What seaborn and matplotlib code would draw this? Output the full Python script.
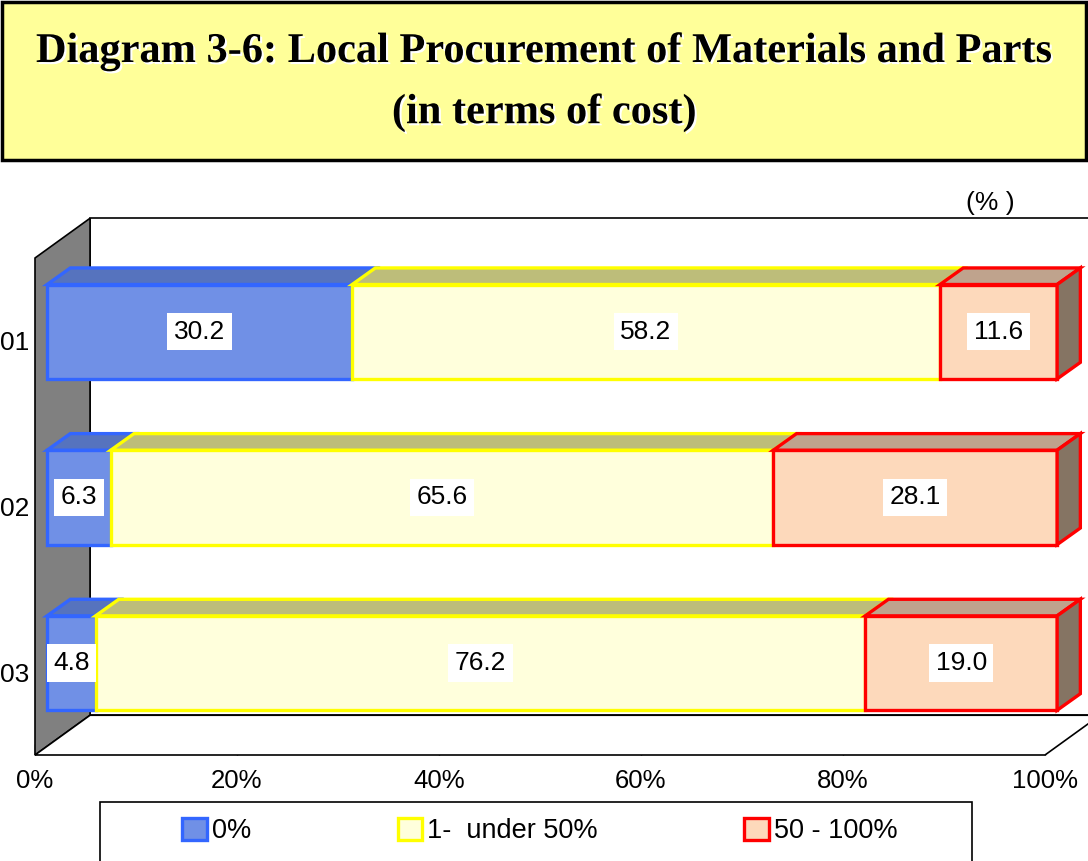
import pandas as pd
import matplotlib
matplotlib.use("Agg")
import matplotlib.pyplot as plt
import matplotlib.patheffects as pe
from matplotlib.patches import Polygon, Rectangle
import seaborn as sns

years = ["01", "02", "03"]
seg_names = ["0%", "1-  under 50%", "50 - 100%"]
zero_pct = [30.2, 6.3, 4.8]
under_50 = [58.2, 65.6, 76.2]
over_50 = [11.6, 28.1, 19.0]

faces = ["#7090E6", "#FFFFDC", "#FDD9BB"]
edges = ["#3366FF", "#FFFF00", "#FF0000"]
tops = ["#5673BE", "#BDBD7A", "#BFA38D"]
side_col = "#857463"

sns.set_theme(style="white")
plt.rcParams["font.family"] = ["Liberation Sans", "DejaVu Sans"]
plt.rcParams["text.color"] = "black"
plt.rcParams["xtick.color"] = "black"
plt.rcParams["ytick.color"] = "black"

fig = plt.figure(figsize=(10.88, 8.61), dpi=100)
W, H = 1088, 861

# title box
fig.add_artist(Rectangle((2 / W, 1 - 160 / H), 1084 / W, 158 / H, transform=fig.transFigure,
                         facecolor="#FFFF99", edgecolor="black", lw=2.5))
shadow = [pe.withSimplePatchShadow(offset=(1.5, -1.5), shadow_rgbFace="white", alpha=1)]
fig.text(0.5, 1 - 52 / H, "Diagram 3-6: Local Procurement of Materials and Parts", ha="center", va="center",
         fontsize=30.5, fontweight="bold", family=["Liberation Serif", "DejaVu Serif"], path_effects=shadow)
fig.text(0.5, 1 - 113 / H, "(in terms of cost)", ha="center", va="center",
         fontsize=30.5, fontweight="bold", family=["Liberation Serif", "DejaVu Serif"], path_effects=shadow)

ax = fig.add_axes([35 / W, 1 - 755 / H, 1010 / W, 497 / H])

# offsets in data units (x in %, y in category units)
WX, WY = 5.45, 0.24      # wall depth
BX, BY = 1.2, 0.055      # bar front offset
DX, DY = 2.3, 0.10       # bar depth

# back wall, left wall, floor
ax.add_patch(Rectangle((WX, -0.5 - WY), 100, 3, facecolor="white", edgecolor="black", lw=1.2,
                       clip_on=False, zorder=0.5))
ax.add_patch(Polygon([(0, -0.5), (WX, -0.5 - WY), (WX, 2.5 - WY), (0, 2.5)], closed=True,
                     facecolor="#808080", edgecolor="black", lw=1.2, clip_on=False, zorder=0.6))
ax.add_patch(Polygon([(0, 2.5), (100, 2.5), (100 + WX, 2.5 - WY), (WX, 2.5 - WY)], closed=True,
                     facecolor="white", edgecolor="black", lw=1.2, clip_on=False, zorder=0.6))

series = [zero_pct, under_50, over_50]
left = [0.0] * len(years)
for k, vals in enumerate(series):
    n0 = len(ax.patches)
    sns.barplot(x=vals, y=years, orient="h", order=years, color=faces[k], saturation=1,
                width=0.57, edgecolor=edges[k], linewidth=2.4, ax=ax, zorder=2)
    for i, p in enumerate(ax.patches[n0:]):
        x0 = left[i] + BX
        p.set_x(x0)
        p.set_y(p.get_y() - BY)
        p.set_clip_on(False)
        x1 = x0 + vals[i]
        yt, yb = p.get_y(), p.get_y() + p.get_height()
        ax.add_patch(Polygon([(x0, yt), (x1, yt), (x1 + DX, yt - DY), (x0 + DX, yt - DY)], closed=True,
                             facecolor=tops[k], edgecolor=edges[k], lw=2.4, clip_on=False, zorder=2))
        if k == len(series) - 1:
            ax.add_patch(Polygon([(x1, yt), (x1 + DX, yt - DY), (x1 + DX, yb - DY), (x1, yb)], closed=True,
                                 facecolor=side_col, edgecolor=edges[k], lw=2.4, clip_on=False, zorder=2))
        ax.text(x0 + vals[i] / 2, (yt + yb) / 2, f"{vals[i]:.1f}", ha="center", va="center", fontsize=19,
                zorder=4, bbox=dict(boxstyle="square,pad=0.25", facecolor="white", edgecolor="none"))
    left = [l + v for l, v in zip(left, vals)]

ax.set_xlim(0, 100)
ax.set_ylim(2.5, -0.5)
for s in ax.spines.values():
    s.set_visible(False)
ax.set_xlabel("")
ax.set_ylabel("")
ax.set_xticks(range(0, 101, 20))
ax.set_xticklabels([f"{t}%" for t in range(0, 101, 20)], fontsize=18.5)
ax.set_yticks(range(len(years)))
ax.set_yticklabels(years, fontsize=19)
ax.set_yticks([-0.5, 0.5, 1.5], minor=True)
ax.tick_params(axis="x", direction="in", length=8, width=1, color="black", pad=10, bottom=True)
ax.tick_params(axis="y", which="major", length=0, pad=4)
ax.tick_params(axis="y", which="minor", direction="in", length=7, width=1, color="black", left=True)
ax.patch.set_alpha(0)

fig.text(990 / W, 1 - 203 / H, "(% )", ha="center", va="center", fontsize=19)

# legend box
fig.add_artist(Rectangle((100 / W, -10 / H), 872 / W, (H - 802 + 10) / H, transform=fig.transFigure,
                         facecolor="white", edgecolor="black", lw=1.2))
handles = [Rectangle((0, 0), 1, 1, facecolor=faces[k], edgecolor=edges[k], lw=2.4) for k in range(3)]
fig.legend(handles, seg_names, loc="center", bbox_to_anchor=(540 / W, 1 - 831 / H), ncol=3, frameon=False,
           handlelength=0.9, handleheight=0.9, handletextpad=0.2, columnspacing=5.4,
           prop=dict(size=19.5))

fig.savefig("out.png", dpi=100)
